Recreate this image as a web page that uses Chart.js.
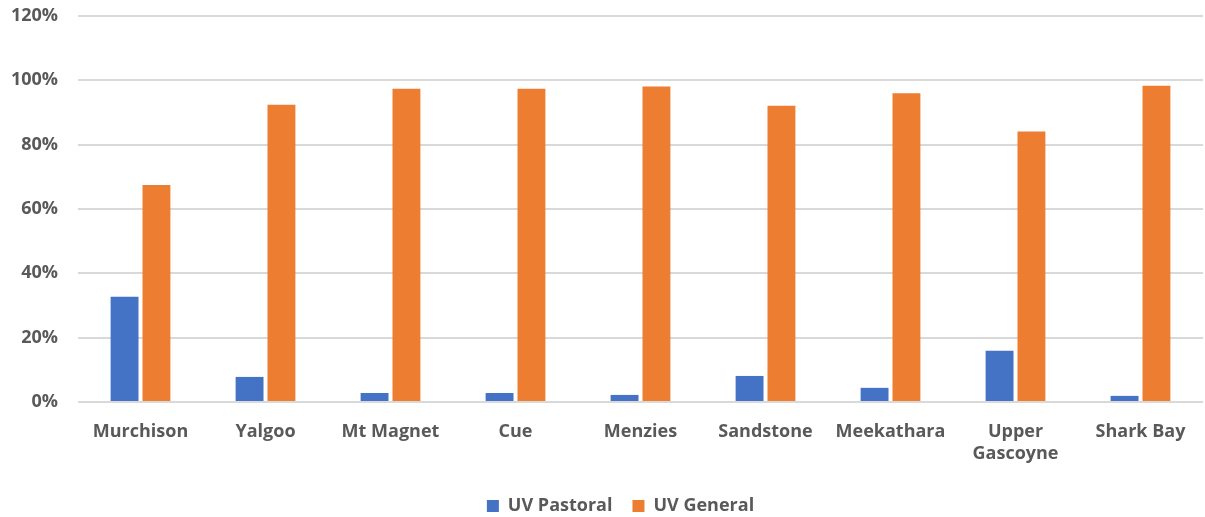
<!DOCTYPE html>
<html lang="en"><head><meta charset="UTF-8">
<title>UV Pastoral vs UV General</title>
<script src="https://cdn.jsdelivr.net/npm/chart.js@4/dist/chart.umd.min.js"></script>
<style>
*{margin:0;padding:0}
body{background:#fff;width:1205px;height:517px;overflow:hidden}
#wrap{position:relative;width:1205px;height:517px}
</style></head><body>
<div id="wrap"><canvas id="c"></canvas></div>
<script>
const shires = ['Murchison', 'Yalgoo', 'Mt Magnet', 'Cue', 'Menzies', 'Sandstone', 'Meekathara', ['Upper', 'Gascoyne'], 'Shark Bay'];
const uvPastoral = [32.7, 7.8, 2.8, 2.8, 2.2, 8.1, 4.4, 15.9, 1.9];
const uvGeneral = [67.5, 92.4, 97.4, 97.4, 98.1, 92.1, 96.0, 84.1, 98.3];

const txt = '#595959';
const fnt = { family: '"Open Sans", "Liberation Sans", sans-serif', size: 18, weight: 'bold' };

// the legend sits a bit right of centre in the original
const legendShift = {
  id: 'legendShift',
  afterLayout(chart) {
    chart.legend.left += 19;
    chart.legend.right += 19;
  }
};

new Chart(document.getElementById('c'), {
  type: 'bar',
  data: {
    labels: shires,
    datasets: [
      { label: 'UV Pastoral', data: uvPastoral, backgroundColor: '#4472c4', categoryPercentage: 0.51, barPercentage: 0.875 },
      { label: 'UV General', data: uvGeneral, backgroundColor: '#ed7d31', categoryPercentage: 0.51, barPercentage: 0.875 }
    ]
  },
  plugins: [legendShift],
  options: {
    responsive: true,
    maintainAspectRatio: false,
    animation: false,
    layout: { padding: { top: 16, right: 2, bottom: -8, left: 0 } },
    plugins: {
      tooltip: { enabled: false },
      legend: {
        position: 'bottom',
        labels: { color: txt, font: fnt, boxWidth: 12, boxHeight: 12, padding: 20 }
      }
    },
    scales: {
      x: {
        grid: { display: false },
        border: { display: false },
        ticks: { color: txt, font: fnt, maxRotation: 0, padding: 11 },
        afterFit: s => { s.height = 75; }
      },
      y: {
        min: 0, max: 120,
        grid: { color: '#d9d9d9', lineWidth: 2, drawTicks: false },
        border: { display: false },
        ticks: { stepSize: 20, color: txt, font: fnt, padding: 20, callback: v => v + '%' },
        afterFit: s => { s.width = 78; s.paddingTop = 0; s.paddingBottom = 0; }
      }
    }
  }
});
</script>
</body></html>
